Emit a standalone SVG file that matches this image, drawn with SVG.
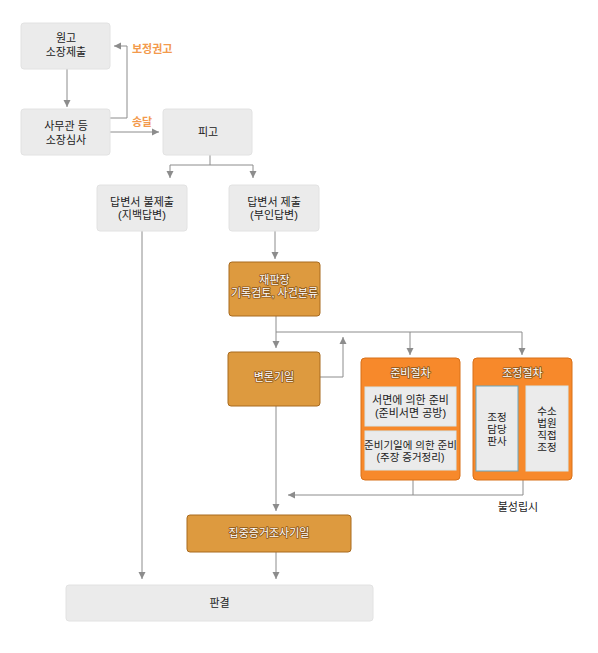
<svg xmlns="http://www.w3.org/2000/svg" width="598" height="653" viewBox="0 0 598 653">
<defs>
<marker id="ah" markerUnits="userSpaceOnUse" markerWidth="8" markerHeight="8" refX="7" refY="4" orient="auto">
<path d="M0,0.5 L7,4 L0,7.5 Z" fill="#8c8c8c"/>
</marker>
</defs>
<style>
text{font-family:"Liberation Sans","Noto Sans CJK KR",sans-serif;font-size:11px;text-anchor:middle;fill:#222}
.s{font-size:10.5px}
.g{fill:#ebebeb;stroke:#e2e2e2;stroke-width:1}
.o1{fill:#dd9a3f;stroke:#a86a1e;stroke-width:1}
.o2{fill:#f7892b;stroke:#d87018;stroke-width:1}
.in{fill:#ebebeb;stroke:#d6e6ea;stroke-width:1}
.w{fill:#fff;stroke:#8a5418;stroke-width:1.6;paint-order:stroke;stroke-linejoin:round}
.lb{fill:#f39a4c;text-anchor:start;font-weight:bold}
.c{fill:none;stroke:#8c8c8c;stroke-width:1}
.ca{fill:none;stroke:#8c8c8c;stroke-width:1;marker-end:url(#ah)}
</style>
<rect width="598" height="653" fill="#fff"/>
<g id="connectors">
<path class="ca" d="M67,69 V107"/>
<path class="ca" d="M110,118 H127 V46 H114"/>
<path class="ca" d="M110,132 H159"/>
<path class="c" d="M210,155 V165"/>
<path class="ca" d="M170,165 H210 M170,165 V178"/>
<path class="ca" d="M253,165 H210 M253,165 V178"/>
<path class="ca" d="M142,231 V579"/>
<path class="ca" d="M275,231 V259"/>
<path class="c" d="M276,316 V332 H522"/>
<path class="ca" d="M276,332 V348"/>
<path class="ca" d="M410,332 V355"/>
<path class="ca" d="M522,332 V355"/>
<path class="ca" d="M320,377 H343 V337"/>
<path class="ca" d="M276,406 V511"/>
<path class="c" d="M413,480 V495"/>
<path class="ca" d="M523,480 V495 H288"/>
<path class="ca" d="M276,552 V579"/>
</g>
<g id="n1"><rect class="g" x="21" y="23" width="89" height="46" rx="3"/><text x="66" y="42">원고</text><text x="66" y="56">소장제출</text></g>
<g id="n2"><rect class="g" x="21" y="109" width="89" height="46" rx="3"/><text x="66" y="130">사무관 등</text><text x="66" y="144">소장심사</text></g>
<g id="n3"><rect class="g" x="163" y="109" width="89" height="46" rx="3"/><text x="208" y="136">피고</text></g>
<g id="lbl1"><text class="lb" x="132" y="53">보정권고</text></g>
<g id="lbl2"><text class="lb" x="132" y="126">송달</text></g>
<g id="n4"><rect class="g" x="97" y="185" width="90" height="46" rx="3"/><text x="142" y="206">답변서 불제출</text><text x="142" y="219">(지백답변)</text></g>
<g id="n5"><rect class="g" x="229" y="185" width="90" height="46" rx="3"/><text x="274" y="206">답변서 제출</text><text x="274" y="219">(부인답변)</text></g>
<g id="n6"><rect class="o1" x="229" y="262" width="91" height="54" rx="3"/><text class="w" x="274.5" y="284">재판장</text><text class="w" x="274.5" y="297">기록검토, 사건분류</text></g>
<g id="n7"><rect class="o1" x="228" y="352" width="92" height="54" rx="3"/><text class="w" x="274" y="381">변론기일</text></g>
<g id="n8"><rect class="o2" x="361" y="358" width="99" height="122" rx="4"/><text class="w" x="410.5" y="377">준비절차</text>
<rect class="in" x="365" y="387" width="91" height="39"/><text x="410.5" y="404">서면에 의한 준비</text><text x="410.5" y="417">(준비서면 공방)</text>
<rect class="in" x="365" y="431" width="91" height="39"/><text class="s" x="410.5" y="449">준비기일에 의한 준비</text><text class="s" x="410.5" y="461">(주장 증거정리)</text></g>
<g id="n9"><rect class="o2" x="473" y="358" width="99" height="122" rx="4"/><text class="w" x="522.5" y="377">조정절차</text>
<rect class="in" x="476" y="386" width="42" height="85" style="stroke:#6aa7c0"/><text class="s" x="497" y="421">조정</text><text class="s" x="497" y="433">담당</text><text class="s" x="497" y="445">판사</text>
<rect class="in" x="526" y="386" width="42" height="85"/><text class="s" x="547" y="415">수소</text><text class="s" x="547" y="427">법원</text><text class="s" x="547" y="439">직접</text><text class="s" x="547" y="451">조정</text></g>
<g id="lbl3"><text x="518" y="511">불성립시</text></g>
<g id="n10"><rect class="o1" x="187" y="515" width="164" height="37" rx="3"/><text class="w" x="269" y="537">집중증거조사기일</text></g>
<g id="n11"><rect class="g" x="66" y="585" width="307" height="36" rx="3"/><text x="219.5" y="607">판결</text></g>
</svg>
